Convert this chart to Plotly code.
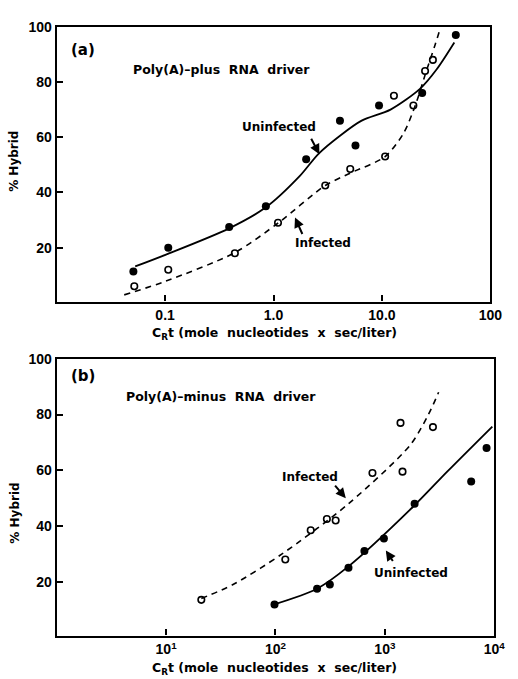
import plotly.graph_objects as go

# ---------- data: panel (a) Poly(A)-plus RNA driver ----------
a_uninf_x = [0.051, 0.107, 0.39, 0.85, 2.0, 4.1, 5.7, 9.4, 23.5, 48]
a_uninf_y = [11.4, 20, 27.5, 35, 52, 66, 57, 71.5, 76, 97]
a_inf_x = [0.052, 0.107, 0.44, 1.1, 3.0, 5.1, 10.7, 12.9, 19.5, 25, 29.5]
a_inf_y = [6, 12, 18, 29, 42.5, 48.5, 53, 75, 71.5, 84, 88]
# fitted curves
a_uninf_fit_x = [0.053, 0.102, 0.39, 0.85, 1.75, 2.6, 4.25, 6.5, 12, 22.4, 32, 46.5]
a_uninf_fit_y = [13.2, 17.5, 27, 34.6, 46, 54, 61, 66, 70, 77.5, 84.6, 94.3]
a_inf_fit_x = [0.042, 0.102, 0.44, 1.11, 3.0, 5.1, 10.7, 15.8, 20.5, 25.7, 31, 34]
a_inf_fit_y = [2.9, 7.9, 18.2, 29, 42.5, 47, 53, 61.4, 72, 84, 93.6, 98.6]

# ---------- data: panel (b) Poly(A)-minus RNA driver ----------
b_uninf_x = [98, 240, 314, 465, 650, 980, 1870, 6150, 8500]
b_uninf_y = [11.8, 17.5, 19, 25, 31, 35.5, 48, 56, 68]
b_inf_x = [21, 123, 210, 295, 355, 770, 1390, 1450, 2750]
b_inf_y = [13.5, 28, 38.5, 42.5, 42, 59, 77, 59.5, 75.5]
b_uninf_fit_x = [96, 240, 465, 1820, 3730, 9600]
b_uninf_fit_y = [11.8, 17.5, 25.5, 47, 59.6, 75.7]
b_inf_fit_x = [21, 41, 115, 465, 1700, 2500, 3100]
b_inf_fit_y = [14, 19, 30, 48, 69, 80, 88]

a_tickvals = [0.1, 1, 10, 100]
a_ticktext = ["0.1", "1.0", "10.0", "100"]
b_tickvals = [10, 100, 1000, 10000]
b_ticktext = ["10<sup>1</sup>", "10<sup>2</sup>", "10<sup>3</sup>", "10<sup>4</sup>"]
y_tickvals = [20, 40, 60, 80, 100]

W, H = 518, 679
FONT = "Liberation Sans"
TFONT = "DejaVu Sans"


def P(x, y):
    return x / W, 1 - y / H


fig = go.Figure()

filled = dict(symbol="circle", size=8, color="black")
opened = dict(symbol="circle-open", size=6.5, color="black", line=dict(width=1.6))
solid = dict(color="black", width=1.8, shape="spline", smoothing=0.8)
dashed = dict(color="black", width=1.6, dash="6px,5px", shape="spline", smoothing=0.8)

# panel a
fig.add_trace(go.Scatter(x=a_uninf_fit_x, y=a_uninf_fit_y, mode="lines", line=solid, xaxis="x", yaxis="y"))
fig.add_trace(go.Scatter(x=a_inf_fit_x, y=a_inf_fit_y, mode="lines", line=dashed, xaxis="x", yaxis="y"))
fig.add_trace(go.Scatter(x=a_uninf_x, y=a_uninf_y, mode="markers", marker=filled, xaxis="x", yaxis="y"))
fig.add_trace(go.Scatter(x=a_inf_x, y=a_inf_y, mode="markers", marker=opened, xaxis="x", yaxis="y"))

# panel b
fig.add_trace(go.Scatter(x=b_uninf_fit_x, y=b_uninf_fit_y, mode="lines", line=solid, xaxis="x2", yaxis="y2"))
fig.add_trace(go.Scatter(x=b_inf_fit_x, y=b_inf_fit_y, mode="lines", line=dashed, xaxis="x2", yaxis="y2"))
fig.add_trace(go.Scatter(x=b_uninf_x, y=b_uninf_y, mode="markers", marker=filled, xaxis="x2", yaxis="y2"))
fig.add_trace(go.Scatter(x=b_inf_x, y=b_inf_y, mode="markers", marker=opened, xaxis="x2", yaxis="y2"))

axis_common = dict(showgrid=False, zeroline=False, showline=True, linecolor="black", linewidth=2.2,
                   mirror=True, ticks="inside", ticklen=6, tickwidth=1.5, tickcolor="black",
                   tickfont=dict(family=FONT, size=14, color="black", weight="bold"))

fig.update_layout(
    width=W, height=H, margin=dict(l=0, r=0, t=0, b=0),
    paper_bgcolor="white", plot_bgcolor="white", showlegend=False,
    xaxis=dict(type="log", range=[-2, 2], domain=[58 / W, 502 / W], anchor="y",
               tickvals=a_tickvals, ticktext=a_ticktext, **axis_common),
    yaxis=dict(range=[0.5, 100], domain=[1 - 297 / H, 1 - 19 / H], anchor="x",
               tickvals=y_tickvals, **axis_common),
    xaxis2=dict(type="log", range=[0, 4], domain=[58 / W, 506 / W], anchor="y2",
                tickvals=b_tickvals, ticktext=b_ticktext, **axis_common),
    yaxis2=dict(range=[0.7, 100], domain=[1 - 635 / H, 1 - 355 / H], anchor="x2",
                tickvals=y_tickvals, **axis_common),
)


def text(x, y, s, size=13, angle=0):
    px_, py_ = P(x, y)
    fig.add_annotation(x=px_, y=py_, xref="paper", yref="paper", text=s, showarrow=False,
                       textangle=angle, xanchor="center", yanchor="middle",
                       font=dict(family=TFONT, size=size, color="black", weight="bold"))


def arrow(hx, hy, tx, ty):
    px_, py_ = P(hx, hy)
    fig.add_annotation(x=px_, y=py_, xref="paper", yref="paper", text="", showarrow=True,
                       ax=tx - hx, ay=ty - hy, arrowhead=2, arrowsize=1, arrowwidth=2,
                       arrowcolor="black")


SP = "\u00a0"
xtitle = "C<sub>R</sub>t" + SP + "(mole" + SP * 2 + "nucleotides" + SP * 2 + "x" + SP * 2 + "sec/liter)"

# panel a text
text(85, 42, "(a)", size=15)
text(227, 62, "Poly(A)\u2013plus" + SP * 2 + "RNA" + SP * 2 + "driver", size=12.5)
text(286, 120, "Uninfected", size=12)
arrow(327, 148, 318, 131)
text(331, 238, "Infected", size=12)
arrow(302, 212, 310, 230)
text(15, 155, "% Hybrid", size=12, angle=-90)
text(281, 329, xtitle, size=12.5)

# panel b text
text(85, 372, "(b)", size=15)
text(226, 393, "Poly(A)\u2013minus" + SP * 2 + "RNA" + SP * 2 + "driver", size=12.5)
text(317, 475, "Infected", size=12)
arrow(354, 496, 342, 482)
text(421, 572, "Uninfected", size=12)
arrow(395, 549, 403, 561)
text(15, 511, "% Hybrid", size=12, angle=-90)
text(281, 668, xtitle, size=12.5)

fig.write_html("out.html", config={"displayModeBar": False},
               post_script="document.body.style.margin='0';document.body.style.overflow='hidden';")
